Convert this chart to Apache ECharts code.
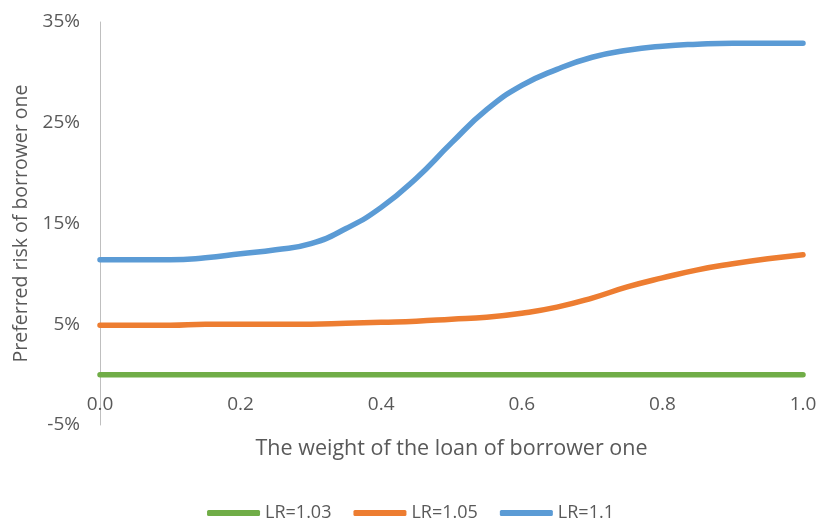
<!DOCTYPE html>
<html>
<head>
<meta charset="utf-8">
<script src="https://cdn.jsdelivr.net/npm/echarts@6/dist/echarts.min.js"></script>
<style>
  html, body { margin: 0; padding: 0; background: #ffffff; }
  #chart { width: 821px; height: 525px; }
</style>
</head>
<body>
<div id="chart"></div>
<script>
// Data
var weights = [0.00, 0.05, 0.10, 0.15, 0.20, 0.25, 0.30, 0.35, 0.40, 0.45, 0.50,
               0.55, 0.60, 0.65, 0.70, 0.75, 0.80, 0.85, 0.90, 0.95, 1.00];
var lr103 = [0, 0, 0, 0, 0, 0, 0, 0, 0, 0, 0,
             0, 0, 0, 0, 0, 0, 0, 0, 0, 0];
var lr105 = [4.9, 4.9, 4.9, 5.0, 5.0, 5.0, 5.0, 5.1, 5.2, 5.3, 5.5,
             5.7, 6.1, 6.7, 7.6, 8.7, 9.6, 10.4, 11.0, 11.5, 11.9];
var lr11  = [11.4, 11.4, 11.4, 11.6, 12.0, 12.4, 13.0, 14.5, 16.6, 19.5, 23.0,
             26.3, 28.7, 30.3, 31.5, 32.2, 32.6, 32.8, 32.9, 32.9, 32.9];
var seriesNames = ['LR=1.03', 'LR=1.05', 'LR=1.1'];
var seriesColors = ['#70AD47', '#ED7D31', '#5B9BD5'];
var xTitle = 'The weight of the loan of borrower one';
var yTitle = 'Preferred risk of borrower one';

function pairs(vals) {
  return weights.map(function (w, i) { return [w, vals[i]]; });
}
var allValues = [lr103, lr105, lr11];

var FONT = 'Open Sans';
var chart = echarts.init(document.getElementById('chart'), null, { renderer: 'canvas' });
chart.setOption({
  animation: false,
  backgroundColor: '#ffffff',
  textStyle: { fontFamily: FONT },
  grid: { left: 100, right: 18, top: 22, bottom: 100, containLabel: false },
  legend: {
    top: 499,
    left: 'center',
    icon: 'roundRect',
    itemWidth: 53,
    itemHeight: 6,
    itemGap: 22,
    textStyle: { color: '#595959', fontSize: 18, fontFamily: FONT },
    data: seriesNames
  },
  xAxis: {
    type: 'value',
    min: 0, max: 1, interval: 0.2,
    name: xTitle,
    nameLocation: 'middle',
    nameGap: 13,
    nameTextStyle: { color: '#595959', fontSize: 21.5, fontFamily: FONT },
    axisLine: { show: false, onZero: false },
    axisTick: { show: false },
    splitLine: { show: false },
    axisLabel: {
      color: '#595959', fontSize: 19, margin: -30,
      formatter: function (v) { return v.toFixed(1); }
    }
  },
  yAxis: {
    type: 'value',
    min: -5, max: 35, interval: 10,
    name: yTitle,
    nameLocation: 'middle',
    nameGap: 68,
    nameTextStyle: { color: '#595959', fontSize: 19.5, fontFamily: FONT },
    axisLine: { show: true, onZero: false, lineStyle: { color: '#bfbfbf', width: 1 } },
    axisTick: { show: false },
    splitLine: { show: false },
    axisLabel: {
      color: '#595959', fontSize: 19, margin: 20,
      formatter: function (v) { return v + '%'; }
    }
  },
  series: seriesNames.map(function (name, i) {
    return {
      name: name,
      type: 'line',
      smooth: true,
      showSymbol: false,
      symbol: 'none',
      data: pairs(allValues[i]),
      lineStyle: { color: seriesColors[i], width: 5.5, cap: 'round' },
      itemStyle: { color: seriesColors[i] }
    };
  })
});
</script>
</body>
</html>
